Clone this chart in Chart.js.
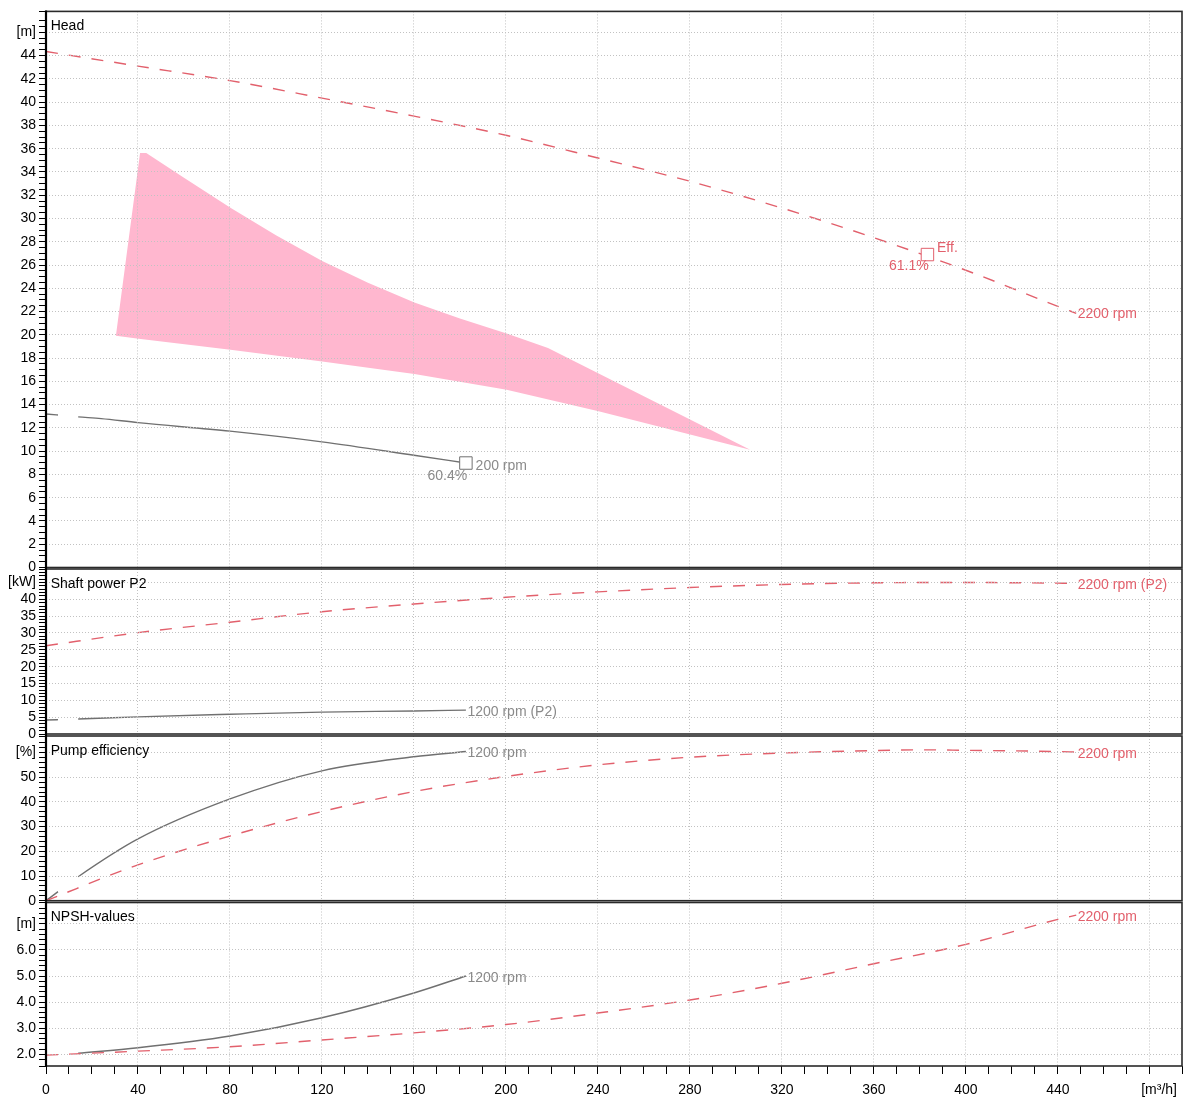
<!DOCTYPE html>
<html>
<head>
<meta charset="utf-8">
<script src="https://cdn.jsdelivr.net/npm/chart.js@4.4.1/dist/chart.umd.min.js"></script>
<style>
  body { margin: 0; background: #fff; }
  #wrap { position: relative; width: 1184px; height: 1099px; }
  canvas { position: absolute; left: 0; top: 0; }
</style>
</head>
<body>
<div id="wrap">
  <canvas id="head" width="1184" height="1099"></canvas>
  <canvas id="power" width="1184" height="1099"></canvas>
  <canvas id="eff" width="1184" height="1099"></canvas>
  <canvas id="npsh" width="1184" height="1099"></canvas>
</div>
<script>
// flow [m3/h] and values
const headRedQ = [0, 40, 80, 120, 160, 200, 240, 280, 320, 360, 400, 440, 448];
const headRedH = [44.35, 43.1, 41.85, 40.35, 38.8, 37.15, 35.2, 33.2, 30.9, 28.35, 25.55, 22.45, 21.85];
const headGrayQ = [0, 14, 24, 40, 80, 120, 160, 182.6];
const headGrayH = [13.2, 12.95, 12.8, 12.45, 11.72, 10.8, 9.65, 8.98];

// operating range (pink area)
const rangeQ = [30.4, 40.9, 43.6, 60, 80.2, 100, 120.1, 140, 160.2, 180, 200.3, 218.3, 306.2, 240.3, 200.3, 160.2, 120.1, 80.2, 40.3, 30.4];
const rangeH = [19.92, 35.63, 35.63, 33.5, 30.92, 28.55, 26.35, 24.48, 22.78, 21.4, 20.12, 18.87, 10.13, 13.44, 15.27, 16.64, 17.7, 18.72, 19.67, 19.92];

// best efficiency points
const bepRed = { q: 383.3, h: 26.9 };
const bepGray = { q: 182.6, h: 8.98 };

const p2RedQ = [0, 40, 80, 120, 160, 200, 240, 280, 320, 360, 400, 440, 448];
const p2RedP = [26.2, 30.1, 33.2, 36.3, 38.6, 40.6, 42.2, 43.5, 44.4, 44.9, 45.0, 44.8, 44.75];
const p2GrayQ = [0, 14, 40, 80, 120, 160, 182.6];
const p2GrayP = [4.15, 4.45, 5.1, 5.85, 6.5, 6.85, 7.1];

const effRedQ = [0, 40, 80, 120, 160, 200, 240, 280, 320, 360, 383, 400, 440, 448];
const effRedE = [0, 14.5, 26.2, 36.1, 44.2, 50.3, 55.0, 58.1, 59.8, 60.8, 61.1, 60.9, 60.4, 60.2];
const effGrayQ = [0, 14, 40, 80, 120, 160, 182.6];
const effGrayE = [0, 9.7, 25.0, 41.2, 52.6, 58.3, 60.4];

const npshRedQ = [0, 40, 80, 120, 160, 200, 240, 280, 320, 360, 400, 440, 448];
const npshRedN = [1.97, 2.12, 2.29, 2.55, 2.82, 3.14, 3.58, 4.08, 4.72, 5.47, 6.21, 7.17, 7.33];
const npshGrayQ = [14, 40, 80, 120, 160, 182.6];
const npshGrayN = [2.04, 2.25, 2.7, 3.4, 4.35, 5.0];

const FONT = "'Liberation Sans', Arial, sans-serif";
const RED = '#e2606c';
const GRAY = '#707070';
const GRAY_TXT = '#8a8a8a';
const GRID = '#c2c2c2';
const PINK = '#ffb7cf';
const Q_MAX = 494;

function xy(qs, vs) {
  return qs.map((q, i) => ({ x: q, y: vs[i] }));
}

function near(v, step) {
  return Math.abs(v / step - Math.round(v / step)) < 1e-6;
}

function curve(data, color, dashed, firstDash) {
  const ds = {
    data: data, showLine: true, borderColor: color, borderWidth: 1.4,
    pointRadius: 0, cubicInterpolationMode: 'monotone', fill: false
  };
  if (dashed) ds.borderDash = [12, 11];
  if (firstDash) ds.segment = { borderDash: c => c.p0DataIndex === 0 ? firstDash : undefined };
  return ds;
}

function marker(q, v, color) {
  return {
    data: [{ x: q, y: v }], showLine: false, pointStyle: 'rect', pointRadius: 8.8,
    borderWidth: 1, borderColor: color, backgroundColor: '#fff'
  };
}

function xScale(showLabels) {
  return {
    type: 'linear', min: 0, max: Q_MAX,
    afterFit: s => {
      s.height = showLabels ? 33 : 0;
      s.paddingLeft = 0;
      s.paddingRight = 0;
    },
    border: { display: false, dash: [1, 2] },
    grid: {
      z: 1, drawTicks: showLabels, tickLength: 8, tickColor: '#000', lineWidth: 1,
      color: c => (c.tick && near(c.tick.value, 40) && c.tick.value > 0 && c.tick.value < Q_MAX) ? GRID : 'rgba(0,0,0,0)'
    },
    ticks: {
      display: showLabels, stepSize: 10, autoSkip: false, maxTicksLimit: 1000, maxRotation: 0, minRotation: 0,
      padding: 8, color: '#000', font: { family: FONT, size: 14 },
      // the unit label takes the place of the last one
      callback: v => (near(v, 40) && v < 470) ? String(Math.round(v)) : ''
    }
  };
}

function yScale(o) {
  return {
    type: 'linear', min: o.min, max: o.max,
    afterFit: s => { s.width = 46; },
    border: { display: false, dash: [1, 2] },
    grid: {
      z: 1, tickLength: 7, tickColor: '#000', lineWidth: 1,
      color: c => (c.tick && near(c.tick.value, o.major) && c.tick.value > o.min + 1e-6) ? GRID : 'rgba(0,0,0,0)'
    },
    ticks: {
      stepSize: o.minor, autoSkip: false, maxTicksLimit: 1000, padding: 3, color: '#000',
      font: { family: FONT, size: 14 },
      callback: v => {
        if (!near(v, o.major)) return '';
        if (Math.abs(v - o.unitAt) < 1e-6) return o.unit;
        return o.digits ? v.toFixed(o.digits) : String(Math.round(v));
      }
    }
  };
}

// frame, panel title and curve labels
function panelPlugin(title, labels, extra) {
  return {
    id: 'panel',
    afterDraw(chart) {
      const { ctx, chartArea: a, scales } = chart;
      ctx.save();
      ctx.strokeStyle = '#2a2a2a';
      ctx.lineWidth = 1.6;
      ctx.strokeRect(a.left, a.top, a.right - a.left, a.bottom - a.top);
      ctx.strokeStyle = '#000';
      ctx.lineWidth = 2.2;
      ctx.beginPath();
      ctx.moveTo(a.left, a.top - 1);
      ctx.lineTo(a.left, a.bottom + 1);
      ctx.stroke();
      ctx.font = '14px ' + FONT;
      ctx.fillStyle = '#000';
      ctx.textBaseline = 'alphabetic';
      ctx.textAlign = 'left';
      ctx.fillText(title, a.left + 4.7, a.top + 18.5);
      labels.forEach(l => {
        ctx.fillStyle = l.color;
        ctx.textAlign = l.align || 'left';
        ctx.fillText(l.text, scales.x.getPixelForValue(l.q) + l.dx, scales.y.getPixelForValue(l.v) + l.dy);
      });
      if (extra) extra(ctx, a);
      ctx.restore();
    }
  };
}

function makePanel(id, pad, yOpts, datasets, title, labels, showX, extra) {
  return new Chart(document.getElementById(id), {
    type: 'scatter',
    data: { datasets: datasets },
    options: {
      responsive: false, animation: false, events: [],
      layout: { autoPadding: false, padding: { top: pad[0], bottom: pad[1], left: 0, right: 2 } },
      plugins: { legend: { display: false }, tooltip: { enabled: false } },
      scales: { x: xScale(showX), y: yScale(yOpts) }
    },
    plugins: [panelPlugin(title, labels, extra)]
  });
}

const H = 1099;

makePanel('head', [9.5, H - 567.5],
  { min: 0, max: 47.8, minor: 0.5, major: 2, unitAt: 46, unit: '[m]' },
  [
    marker(bepRed.q, bepRed.h, RED),
    marker(bepGray.q, bepGray.h, GRAY),
    curve(xy(headRedQ, headRedH), RED, true),
    curve(xy(headGrayQ, headGrayH), GRAY, false, [12, 40]),
    { data: xy(rangeQ, rangeH), showLine: true, tension: 0, borderWidth: 0, pointRadius: 0,
      backgroundColor: PINK, borderColor: PINK, fill: 'shape' }
  ],
  'Head',
  [
    { q: 448, v: 21.85, text: '2200 rpm', color: RED, dx: 1.5, dy: 5 },
    { q: bepRed.q, v: bepRed.h, text: 'Eff.', color: RED, dx: 9.6, dy: -2.6 },
    { q: bepRed.q, v: bepRed.h, text: '61.1%', color: RED, dx: 1.3, dy: 15.7, align: 'right' },
    { q: bepGray.q, v: bepGray.h, text: '60.4%', color: GRAY_TXT, dx: 1.3, dy: 16.6, align: 'right' },
    { q: bepGray.q, v: bepGray.h, text: '200 rpm', color: GRAY_TXT, dx: 9.7, dy: 7.3 }
  ], false);

makePanel('power', [569, H - 734],
  { min: 0, max: 49, minor: 1, major: 5, unitAt: 45, unit: '[kW]' },
  [
    curve(xy(p2RedQ, p2RedP), RED, true),
    curve(xy(p2GrayQ, p2GrayP), GRAY, false, [12, 40])
  ],
  'Shaft power P2',
  [
    { q: 448, v: 44.75, text: '2200 rpm (P2)', color: RED, dx: 1.5, dy: 5.5 },
    { q: 182.6, v: 7.1, text: '1200 rpm (P2)', color: GRAY_TXT, dx: 1.5, dy: 5.5 }
  ], false);

makePanel('eff', [736, H - 900.7],
  { min: 0, max: 66.7, minor: 2, major: 10, unitAt: 60, unit: '[%]' },
  [
    curve(xy(effRedQ, effRedE), RED, true),
    curve(xy(effGrayQ, effGrayE), GRAY, false, [15, 40])
  ],
  'Pump efficiency',
  [
    { q: 448, v: 60.2, text: '2200 rpm', color: RED, dx: 1.5, dy: 5.5 },
    { q: 182.6, v: 60.4, text: '1200 rpm', color: GRAY_TXT, dx: 1.5, dy: 5.5 }
  ], false);

makePanel('npsh', [902.5, 0],
  { min: 1.552, max: 7.816, minor: 0.2, major: 1, unitAt: 7, unit: '[m]', digits: 1 },
  [
    curve(xy(npshRedQ, npshRedN), RED, true),
    curve(xy(npshGrayQ, npshGrayN), GRAY, false)
  ],
  'NPSH-values',
  [
    { q: 448, v: 7.33, text: '2200 rpm', color: RED, dx: 1.5, dy: 5.5 },
    { q: 182.6, v: 5.0, text: '1200 rpm', color: GRAY_TXT, dx: 1.5, dy: 5.5 }
  ], true,
  (ctx, a) => {
    ctx.fillStyle = '#000';
    ctx.textAlign = 'right';
    ctx.fillText('[m³/h]', a.right - 5, a.bottom + 28.3);
  });
</script>
</body>
</html>
